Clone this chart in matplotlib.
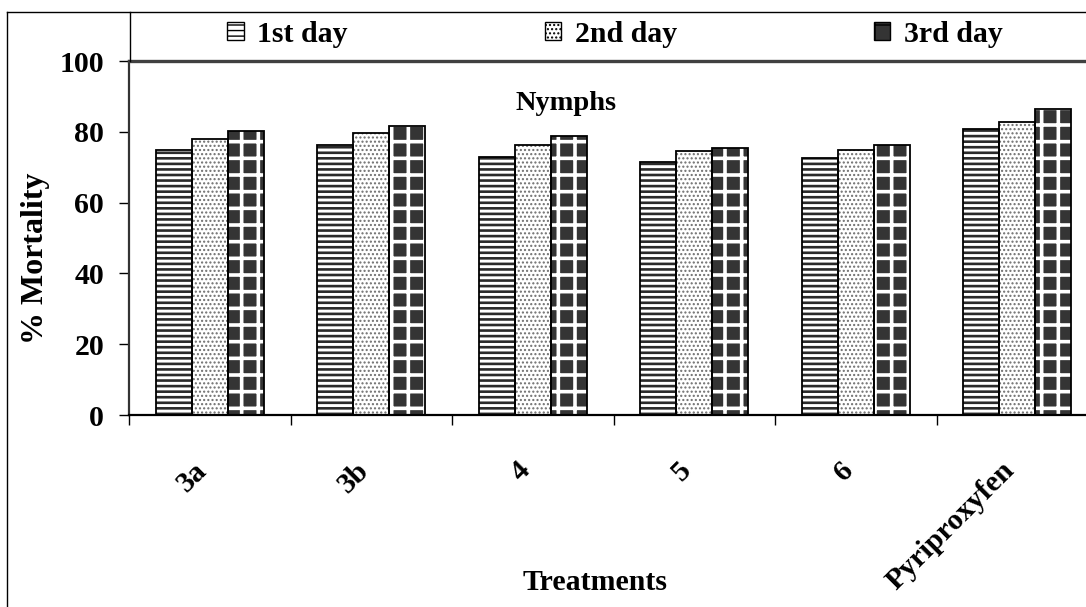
import matplotlib
matplotlib.use("Agg")
import matplotlib.pyplot as plt
import matplotlib.transforms as mtransforms
import numpy as np
from matplotlib.patches import Patch
from matplotlib.lines import Line2D

plt.rcParams['font.family'] = ['Liberation Serif', 'DejaVu Serif']
plt.rcParams['font.weight'] = 'bold'

# data
treatments = ["3a", "3b", "4", "5", "6", "Pyriproxyfen"]
day1 = [75.0, 76.3, 73.0, 71.6, 72.5, 80.8]
day2 = [78.1, 79.7, 76.3, 74.5, 74.9, 82.7]
day3 = [80.2, 81.6, 78.8, 75.4, 76.4, 86.4]
day_names = ["1st day", "2nd day", "3rd day"]

W, H = 1086, 607
FS = 21.5
fig = plt.figure(figsize=(W / 100, H / 100), dpi=100)
# axes runs a little past the right edge, as in the cropped original
ax = fig.add_axes([129 / W, (H - 415) / H, 969 / W, 354 / H])

x = np.arange(len(treatments))
bw = 0.223

# hatch look for each day: (face, hatch, hatch colour, hatch width)
styles = [
    ("white", "---", "#2a2a2a", 1.9),
    ("white", "....", "#6e6e6e", 1.0),
    ("#343434", "+", "white", 2.6),
]

for i, vals in enumerate([day1, day2, day3]):
    face, hatch, hcol, hlw = styles[i]
    with plt.rc_context({'hatch.linewidth': hlw}):
        ax.bar(x + (i - 1) * bw, vals, bw, color=face, hatch=hatch,
               edgecolor=hcol, linewidth=0, zorder=2)
    ax.bar(x + (i - 1) * bw, vals, bw, facecolor="none",
           edgecolor="black", linewidth=1.3, zorder=3)

ax.set_xlim(-0.5, len(treatments) - 0.5)
ax.set_ylim(0, 100)
ax.set_yticks([0, 20, 40, 60, 80, 100])
ax.tick_params(axis='y', direction='out', length=7, width=1, labelsize=FS, pad=11)
for t in ax.get_yticklabels():
    t.set_fontweight('bold')

ax.set_xticks(x)
ax.set_xticklabels(treatments, rotation=45, ha='right', va='center',
                   rotation_mode='anchor', fontsize=FS, fontweight='bold')
ax.tick_params(axis='x', which='major', length=0, pad=37)
shift = mtransforms.ScaledTranslation(-7 / 100, 0, fig.dpi_scale_trans)
for t in ax.get_xticklabels():
    t.set_transform(t.get_transform() + shift)
ax.set_xticks(np.arange(-0.5, len(treatments), 1.0), minor=True)
ax.tick_params(axis='x', which='minor', direction='out', length=7, width=1)

ax.spines['right'].set_visible(False)
ax.spines['top'].set_color('#404040')
ax.spines['top'].set_linewidth(2.4)
ax.spines['left'].set_color('#333333')
ax.spines['left'].set_linewidth(1.6)
ax.spines['bottom'].set_linewidth(1.6)

ax.text(566 / W, 1 - 103 / H, "Nymphs", transform=fig.transFigure,
        ha='center', va='center', fontsize=FS - 1, fontweight='bold')

fig.text(595 / W, 1 - 582 / H, "Treatments", ha='center', va='center',
         fontsize=FS, fontweight='bold')
fig.text(36 / W, 1 - 258 / H, "% Mortality", ha='center', va='center',
         rotation=90, fontsize=23, fontweight='bold')

# legend
handles = []
for i in range(3):
    face, hatch, hcol, hlw = styles[i]
    handles.append(Patch(facecolor=face, hatch=hatch, edgecolor="black",
                         linewidth=1, label=day_names[i]))
leg = fig.legend(handles=handles, loc='center', ncol=3,
                 bbox_to_anchor=(615 / W, 1 - 34 / H),
                 frameon=False, handlelength=0.55,
                 handleheight=0.55, handletextpad=0.45, columnspacing=6.6,
                 prop={'weight': 'bold', 'size': FS})

# chart border and legend box edge
fig.add_artist(Line2D([7 / W, 1], [1 - 12 / H, 1 - 12 / H], color='black', lw=1))
fig.add_artist(Line2D([7 / W, 7 / W], [0, 1 - 12 / H], color='black', lw=1))
fig.add_artist(Line2D([130 / W, 130 / W], [1 - 12 / H, 1 - 61 / H], color='black', lw=1))

fig.savefig("out.png", dpi=100)
